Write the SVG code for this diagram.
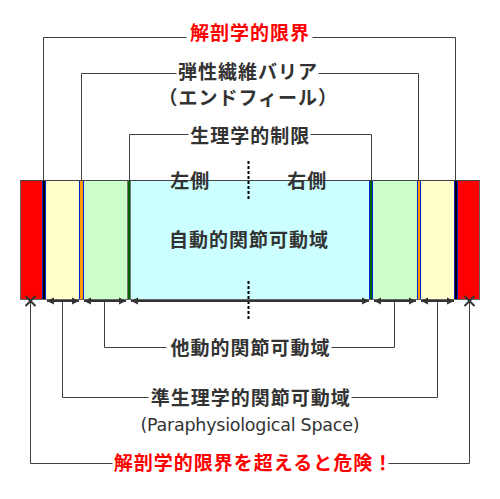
<svg xmlns="http://www.w3.org/2000/svg" width="500" height="499" viewBox="0 0 500 499">
<style>
  .lbl { font-family: "Noto Sans CJK JP", "Noto Sans", sans-serif; font-size: 19px; font-weight: bold; fill: #333333; letter-spacing: 1px; text-anchor: middle; }
  .red { fill: #ff0000; }
  .latin { font-family: "DejaVu Sans", "Liberation Sans", sans-serif; font-size: 17.5px; font-weight: normal; fill: #333333; }
  .conn { fill: none; stroke: #404040; stroke-width: 1; }
  .arr { fill: none; stroke: #333333; stroke-width: 2; marker-start: url(#ah); marker-end: url(#ah); }
  .x { fill: none; stroke: #333333; stroke-width: 2; }
  .dot { fill: none; stroke: #000000; stroke-width: 2; stroke-dasharray: 3 2; }
  .blue { stroke: #0022cc; stroke-width: 1; }
</style>
<defs>
  <marker id="ah" markerUnits="userSpaceOnUse" markerWidth="7" markerHeight="8" refX="7" refY="4" orient="auto-start-reverse">
    <path d="M0,0.5 L7,4 L0,7.5 z" fill="#333333"/>
  </marker>
</defs>
<rect width="500" height="499" fill="#ffffff"/>

<g id="band">
  <rect id="anat-left" x="20" y="180" width="22" height="120" fill="#ff0000"/>
  <rect id="end-left" x="42.5" y="180.5" width="3" height="119" fill="#000000" class="blue"/>
  <rect id="para-left" x="46" y="180" width="33" height="120" fill="#ffffcc"/>
  <rect id="elastic-left" x="79.5" y="180.5" width="4" height="119" fill="#ff9900" class="blue"/>
  <rect id="passive-left" x="84" y="180" width="43" height="120" fill="#ccffcc"/>
  <rect id="phys-left" x="127.5" y="180.5" width="3" height="119" fill="#006600" stroke="#777777" stroke-width="1"/>
  <rect id="active" x="131" y="180" width="238" height="120" fill="#ccffff"/>
  <rect id="phys-right" x="369.5" y="180.5" width="3" height="119" fill="#006600" class="blue"/>
  <rect id="passive-right" x="373" y="180" width="44" height="120" fill="#ccffcc"/>
  <rect id="elastic-right" x="417.5" y="180.5" width="3" height="119" fill="#ff9900" class="blue"/>
  <rect id="para-right" x="421" y="180" width="33" height="120" fill="#ffffcc"/>
  <rect id="end-right" x="454.5" y="180.5" width="3" height="119" fill="#000000" class="blue"/>
  <rect id="anat-right" x="458" y="180" width="21.5" height="120" fill="#ff0000"/>
  <rect x="20.5" y="180.5" width="459" height="119" fill="none" stroke="#666666" stroke-width="1"/>
  <line x1="20" y1="180.5" x2="480" y2="180.5" stroke="#444444" stroke-width="1"/>
</g>

<g id="connectors">
  <path class="conn" d="M43.5,180 V37.5 H186.5 M312.5,37.5 H455.5 V180"/>
  <path class="conn" d="M81.5,180 V73.5 H176.5 M318.5,73.5 H418.5 V180"/>
  <path class="conn" d="M129.5,180 V134.5 H188.5 M310.5,134.5 H371.5 V180"/>
  <path class="conn" d="M104.5,302 V347.5 H166.5 M331.5,347.5 H394.5 V302"/>
  <path class="conn" d="M62.5,302 V397.5 H148.5 M351.5,397.5 H437.5 V302"/>
  <path class="conn" d="M30.5,302 V463.5 H112.5 M388.5,463.5 H469.5 V302"/>
  <path class="dot" d="M248.5,161 V200 M248.5,281 V320"/>
  <path class="arr" d="M47,301 H79"/>
  <path class="arr" d="M84,301 H126"/>
  <path class="arr" d="M131,301 H369"/>
  <path class="arr" d="M374,301 H416"/>
  <path class="arr" d="M421,301 H454"/>
  <path class="x" d="M25.5,296 L35.5,306 M35.5,296 L25.5,306"/>
  <path class="x" d="M464.5,296 L474.5,306 M474.5,296 L464.5,306"/>
</g>

<g id="label-anatomical"><text class="lbl red" x="250" y="40.4">解剖学的限界</text></g>
<g id="label-elastic">
  <text class="lbl" x="248" y="78.7">弾性繊維バリア</text>
  <text class="lbl" x="248.3" y="105.3">（エンドフィール）</text>
</g>
<g id="label-physiological"><text class="lbl" x="250.3" y="143">生理学的制限</text></g>
<g id="label-left"><text class="lbl" x="190.3" y="188">左側</text></g>
<g id="label-right"><text class="lbl" x="307.2" y="188">右側</text></g>
<g id="label-active"><text class="lbl" x="249" y="247">自動的関節可動域</text></g>
<g id="label-passive"><text class="lbl" x="250.5" y="355.4">他動的関節可動域</text></g>
<g id="label-para">
  <text class="lbl" x="250.8" y="404.7">準生理学的関節可動域</text>
  <text class="latin" x="140.5" y="430.5" textLength="219" lengthAdjust="spacing">(Paraphysiological Space)</text>
</g>
<g id="label-danger"><text class="lbl red" x="253.5" y="470.4">解剖学的限界を超えると危険！</text></g>
</svg>
